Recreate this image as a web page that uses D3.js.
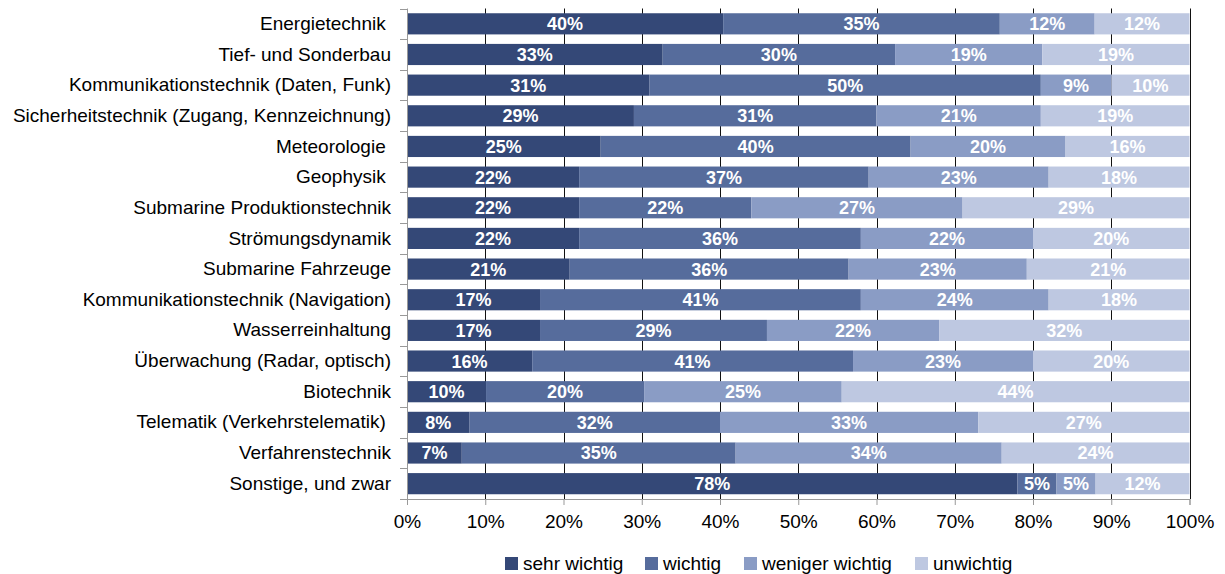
<!DOCTYPE html>
<html>
<head>
<meta charset="utf-8">
<script src="https://cdn.jsdelivr.net/npm/d3@7"></script>
<style>
  html, body { margin: 0; padding: 0; background: #fff; }
  svg { display: block; font-family: "Liberation Sans", Arial, sans-serif; }
</style>
</head>
<body>
<svg id="chart" width="1225" height="574"></svg>
<script>
// Fields of expertise, top to bottom (trailing spaces kept as in the labels)
const categories = [
  "Energietechnik ",
  "Tief- und Sonderbau",
  "Kommunikationstechnik (Daten, Funk)",
  "Sicherheitstechnik (Zugang, Kennzeichnung)",
  "Meteorologie ",
  "Geophysik ",
  "Submarine Produktionstechnik",
  "Strömungsdynamik",
  "Submarine Fahrzeuge",
  "Kommunikationstechnik (Navigation)",
  "Wasserreinhaltung",
  "Überwachung (Radar, optisch)",
  "Biotechnik",
  "Telematik (Verkehrstelematik) ",
  "Verfahrenstechnik",
  "Sonstige, und zwar"
];

const seriesNames = ["sehr wichtig", "wichtig", "weniger wichtig", "unwichtig"];

// Shares in percent per category
const sehrWichtig    = [40, 33, 31, 29, 25, 22, 22, 22, 21, 17, 17, 16, 10,  8,  7, 78];
const wichtig        = [35, 30, 50, 31, 40, 37, 22, 36, 36, 41, 29, 41, 20, 32, 35,  5];
const wenigerWichtig = [12, 19,  9, 21, 20, 23, 27, 22, 23, 24, 22, 23, 25, 33, 34,  5];
const unwichtig      = [12, 19, 10, 19, 16, 18, 29, 20, 21, 18, 32, 20, 44, 27, 24, 12];

const tickValues = [0, 0.1, 0.2, 0.3, 0.4, 0.5, 0.6, 0.7, 0.8, 0.9, 1.0];

const colors = ["#344877", "#566c9c", "#8a9cc5", "#bec8e1"];

// Build rows for the stack layout
const rows = categories.map((c, i) => ({
  cat: c,
  "sehr wichtig": sehrWichtig[i],
  "wichtig": wichtig[i],
  "weniger wichtig": wenigerWichtig[i],
  "unwichtig": unwichtig[i]
}));

const stack = d3.stack().keys(seriesNames).offset(d3.stackOffsetExpand);
const layers = stack(rows);

const svg = d3.select("#chart");
const plot = { left: 407, right: 1189.5, top: 8.5, bottom: 499 };

const x = d3.scaleLinear().domain([0, 1]).range([plot.left, plot.right]);
const y = d3.scaleBand().domain(categories).range([plot.top, plot.bottom])
  .paddingInner(0.31).paddingOuter(0.155);

// Vertical gridlines behind the bars
svg.append("g")
  .selectAll("line")
  .data(tickValues.slice(1))
  .join("line")
  .attr("x1", d => Math.round(x(d)) + 0.5)
  .attr("x2", d => Math.round(x(d)) + 0.5)
  .attr("y1", plot.top)
  .attr("y2", plot.bottom)
  .attr("stroke", "#111")
  .attr("stroke-width", 1);

// Stacked bars
const layerG = svg.append("g")
  .selectAll("g")
  .data(layers)
  .join("g")
  .attr("fill", (d, i) => colors[i]);

layerG.selectAll("rect")
  .data(d => d)
  .join("rect")
  .attr("x", d => x(d[0]))
  .attr("width", d => x(d[1]) - x(d[0]))
  .attr("y", d => y(d.data.cat))
  .attr("height", y.bandwidth());

// Value labels centered in each segment
const valueArrays = [sehrWichtig, wichtig, wenigerWichtig, unwichtig];
layers.forEach((layer, li) => {
  svg.append("g")
    .selectAll("text")
    .data(layer)
    .join("text")
    .attr("x", d => (x(d[0]) + x(d[1])) / 2)
    .attr("y", d => y(d.data.cat) + y.bandwidth() / 2)
    .attr("dy", "0.36em")
    .attr("text-anchor", "middle")
    .attr("fill", "#fff")
    .attr("font-weight", "bold")
    .attr("font-size", "18px")
    .text((d, i) => valueArrays[li][i] + "%");
});

// Left category axis
const yAxis = d3.axisLeft(y).tickSize(0).tickPadding(16);
const gy = svg.append("g")
  .attr("transform", `translate(${plot.left},0)`)
  .call(yAxis);
gy.select(".domain").attr("stroke", "#999").attr("d", `M0.5,${plot.top}V${plot.bottom}`);
gy.selectAll("text")
  .attr("font-size", "19px")
  .attr("fill", "#000")
  .style("white-space", "pre")
  .attr("font-family", "'Liberation Sans', Arial, sans-serif");

// Separator ticks between categories
gy.append("g")
  .selectAll("line")
  .data(d3.range(categories.length + 1))
  .join("line")
  .attr("x1", -7).attr("x2", 0.5)
  .attr("y1", i => Math.round(plot.top + i * (plot.bottom - plot.top) / categories.length) + 0.5)
  .attr("y2", i => Math.round(plot.top + i * (plot.bottom - plot.top) / categories.length) + 0.5)
  .attr("stroke", "#999");

// Bottom percentage axis
const xAxis = d3.axisBottom(x).tickValues(tickValues).tickFormat(d3.format(".0%")).tickSize(6).tickPadding(10);
const gx = svg.append("g")
  .attr("transform", `translate(0,${plot.bottom})`)
  .call(xAxis);
gx.select(".domain").attr("stroke", "#999");
gx.selectAll(".tick line").attr("stroke", "#999");
gx.selectAll("text")
  .attr("font-size", "19px")
  .attr("fill", "#000")
  .attr("font-family", "'Liberation Sans', Arial, sans-serif");

// Legend
const legendX = [505, 645, 744, 915];
const legend = svg.append("g")
  .selectAll("g")
  .data(seriesNames)
  .join("g")
  .attr("transform", (d, i) => `translate(${legendX[i]},557)`);
legend.append("rect")
  .attr("width", 13).attr("height", 13)
  .attr("fill", (d, i) => colors[i]);
legend.append("text")
  .attr("x", 18).attr("y", 13)
  .attr("font-size", "19px")
  .attr("fill", "#000")
  .text(d => d);
</script>
</body>
</html>
